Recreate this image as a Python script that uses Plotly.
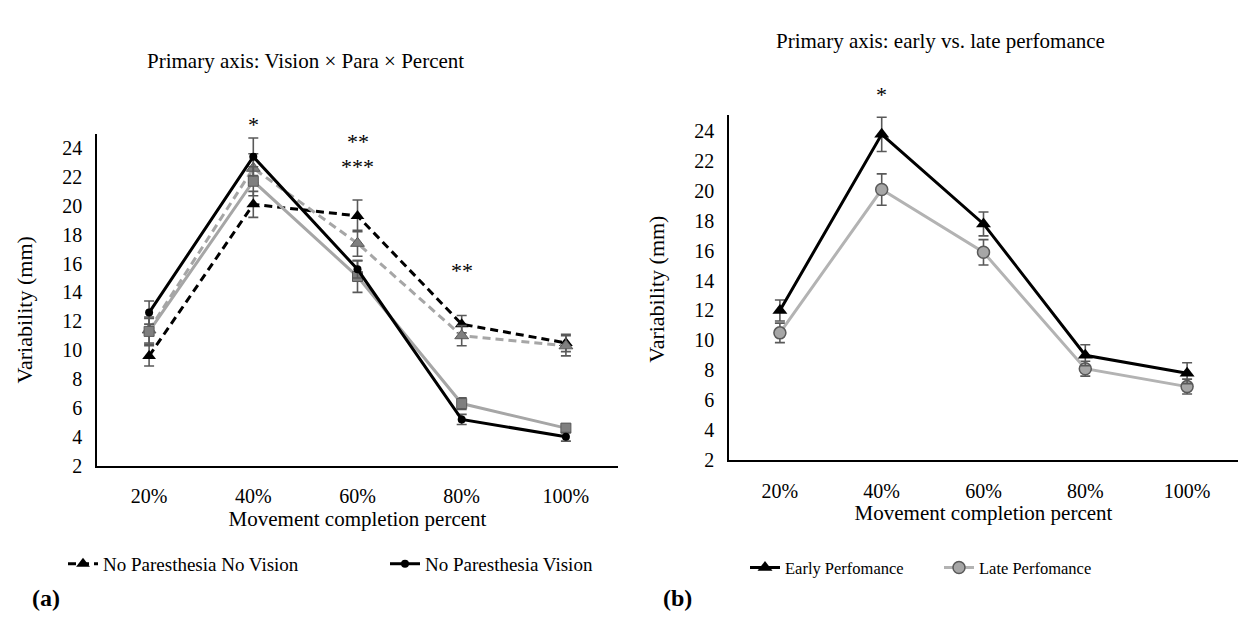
import plotly.graph_objects as go

# ---------------- data ----------------
categories = ["20%", "40%", "60%", "80%", "100%"]

# Panel (a): Vision x Paresthesia x Percent
npnv = [9.6, 20.1, 19.3, 11.8, 10.5]        # No Paresthesia No Vision
npnv_err = [0.7, 0.9, 1.1, 0.6, 0.6]
npv = [12.6, 23.4, 15.6, 5.2, 4.0]          # No Paresthesia Vision
npv_err = [0.8, 1.3, 0.6, 0.35, 0.3]
pnv = [11.4, 22.6, 17.4, 11.0, 10.3]        # Paresthesia No Vision
pnv_err = [0.9, 1.0, 0.9, 0.7, 0.7]
pv = [11.3, 21.7, 15.1, 6.3, 4.6]           # Paresthesia Vision
pv_err = [0.9, 1.0, 1.1, 0.4, 0.25]

# Panel (b): early vs late performance
early = [12.0, 23.8, 17.8, 9.0, 7.8]
early_err = [0.7, 1.15, 0.8, 0.7, 0.7]
late = [10.5, 20.1, 15.9, 8.1, 6.9]
late_err = [0.65, 1.05, 0.85, 0.5, 0.5]

y_ticks = list(range(2, 25, 2))

# significance markers: (category, text)
stars_a_cat = ["40%", "60%", "60%", "80%"]
stars_a_txt = ["*", "**", "***", "**"]
stars_b_cat = ["40%"]
stars_b_txt = ["*"]

# ---------------- figure ----------------
W, H = 1238, 624
FONT = "Liberation Serif, Times New Roman, serif"
ERR_COL = "#595959"


def px_x(x):
    return x / W


def px_y(y):
    return 1 - y / H


fig = go.Figure()


def err(vals, col=ERR_COL):
    return dict(type="data", array=vals, visible=True, color=col, thickness=1.6, width=5)


# panel a traces
fig.add_trace(go.Scatter(
    x=categories, y=npnv, name="No Paresthesia No Vision", mode="lines+markers",
    line=dict(color="black", width=3, dash="8px,5px"),
    marker=dict(symbol="triangle-up", size=12, color="black"),
    error_y=err(npnv_err), xaxis="x", yaxis="y", legend="legend"))
fig.add_trace(go.Scatter(
    x=categories, y=pnv, name="Paresthesia No Vision", mode="lines+markers",
    line=dict(color="#a6a6a6", width=3, dash="8px,5px"),
    marker=dict(symbol="triangle-up", size=12, color="#7f7f7f", line=dict(color="#595959", width=1)),
    error_y=err(pnv_err), xaxis="x", yaxis="y", showlegend=False))
fig.add_trace(go.Scatter(
    x=categories, y=pv, name="Paresthesia Vision", mode="lines+markers",
    line=dict(color="#a6a6a6", width=3),
    marker=dict(symbol="square", size=10, color="#7f7f7f", line=dict(color="#595959", width=1)),
    error_y=err(pv_err), xaxis="x", yaxis="y", showlegend=False))
fig.add_trace(go.Scatter(
    x=categories, y=npv, name="No Paresthesia Vision", mode="lines+markers",
    line=dict(color="black", width=3),
    marker=dict(symbol="circle", size=8, color="black"),
    error_y=err(npv_err), xaxis="x", yaxis="y", legend="legend"))

# panel b traces
fig.add_trace(go.Scatter(
    x=categories, y=late, name="Late Perfomance", mode="lines+markers",
    line=dict(color="#b3b3b3", width=3),
    marker=dict(symbol="circle", size=12, color="#a6a6a6", line=dict(color="#595959", width=1.5)),
    error_y=err(late_err), xaxis="x2", yaxis="y2", legend="legend2"))
fig.add_trace(go.Scatter(
    x=categories, y=early, name="Early Perfomance", mode="lines+markers",
    line=dict(color="black", width=3),
    marker=dict(symbol="triangle-up", size=13, color="black"),
    error_y=err(early_err), xaxis="x2", yaxis="y2", legend="legend2"))

axis_common = dict(showline=True, linecolor="black", linewidth=1.5, ticks="",
                   showgrid=False, zeroline=False,
                   tickfont=dict(family=FONT, size=20, color="black"))

fig.update_layout(
    width=W, height=H, margin=dict(l=0, r=0, t=0, b=0),
    paper_bgcolor="white", plot_bgcolor="white",
    font=dict(family=FONT, color="black"),
    xaxis=dict(domain=[px_x(97), px_x(618)], type="category", range=[-0.5, 4.5],
               anchor="y", ticklabelstandoff=12,
               title=dict(text="Movement completion percent", font=dict(size=21), standoff=4),
               **axis_common),
    yaxis=dict(domain=[px_y(474), px_y(136)], range=[2, 25.0], tickvals=y_ticks,
               anchor="x", ticklabelstandoff=9, **axis_common),
    xaxis2=dict(domain=[px_x(729), 1.0], type="category", range=[-0.5, 4.5],
                anchor="y2", ticklabelstandoff=12,
                title=dict(text="Movement completion percent", font=dict(size=21), standoff=4),
                **axis_common),
    yaxis2=dict(domain=[px_y(468), px_y(117)], range=[2, 25.1], tickvals=y_ticks,
                anchor="x2", ticklabelstandoff=9, **axis_common),
    legend=dict(orientation="h", x=px_x(63), y=px_y(574), xanchor="left", yanchor="middle",
                entrywidth=277, entrywidthmode="pixels", font=dict(family=FONT, size=19),
                bgcolor="rgba(0,0,0,0)", traceorder="normal"),
    legend2=dict(orientation="h", x=px_x(745), y=px_y(578), xanchor="left", yanchor="middle",
                 entrywidth=149, entrywidthmode="pixels", font=dict(family=FONT, size=16.5),
                 bgcolor="rgba(0,0,0,0)", traceorder="reversed"),
)

# pixel heights for the significance markers (layout positions)
stars_a_ypx = [127, 144, 169, 275]
stars_b_ypx = [96]

ann = []
for c, ypx, t in zip(stars_a_cat, stars_a_ypx, stars_a_txt):
    ann.append(dict(x=c, y=px_y(ypx), xref="x", yref="paper", text=t, showarrow=False,
                    xanchor="center", yanchor="middle",
                    font=dict(family=FONT, size=22, color="black")))
for c, ypx, t in zip(stars_b_cat, stars_b_ypx, stars_b_txt):
    ann.append(dict(x=c, y=px_y(ypx), xref="x2", yref="paper", text=t, showarrow=False,
                    xanchor="center", yanchor="middle",
                    font=dict(family=FONT, size=22, color="black")))
# y-axis titles
ann.append(dict(x=px_x(24), y=px_y(316), xref="paper", yref="paper", text="Variability (mm)",
                textangle=-90, showarrow=False, xanchor="center", yanchor="middle",
                font=dict(family=FONT, size=22, color="black")))
ann.append(dict(x=px_x(657), y=px_y(295), xref="paper", yref="paper", text="Variability (mm)",
                textangle=-90, showarrow=False, xanchor="center", yanchor="middle",
                font=dict(family=FONT, size=22, color="black")))
# panel titles
ann.append(dict(x=px_x(305), y=px_y(62), xref="paper", yref="paper",
                text="Primary axis: Vision × Para × Percent", showarrow=False,
                xanchor="center", yanchor="middle",
                font=dict(family=FONT, size=21, color="black")))
ann.append(dict(x=px_x(940), y=px_y(42), xref="paper", yref="paper",
                text="Primary axis: early vs. late perfomance", showarrow=False,
                xanchor="center", yanchor="middle",
                font=dict(family=FONT, size=21, color="black")))
# panel labels
ann.append(dict(x=px_x(46), y=px_y(609), xref="paper", yref="paper", text="<b>(a)</b>",
                showarrow=False, xanchor="center", yanchor="middle",
                font=dict(family=FONT, size=24, color="black")))
ann.append(dict(x=px_x(677), y=px_y(609), xref="paper", yref="paper", text="<b>(b)</b>",
                showarrow=False, xanchor="center", yanchor="middle",
                font=dict(family=FONT, size=24, color="black")))
fig.update_layout(annotations=ann)

fig.write_html("out.html")
